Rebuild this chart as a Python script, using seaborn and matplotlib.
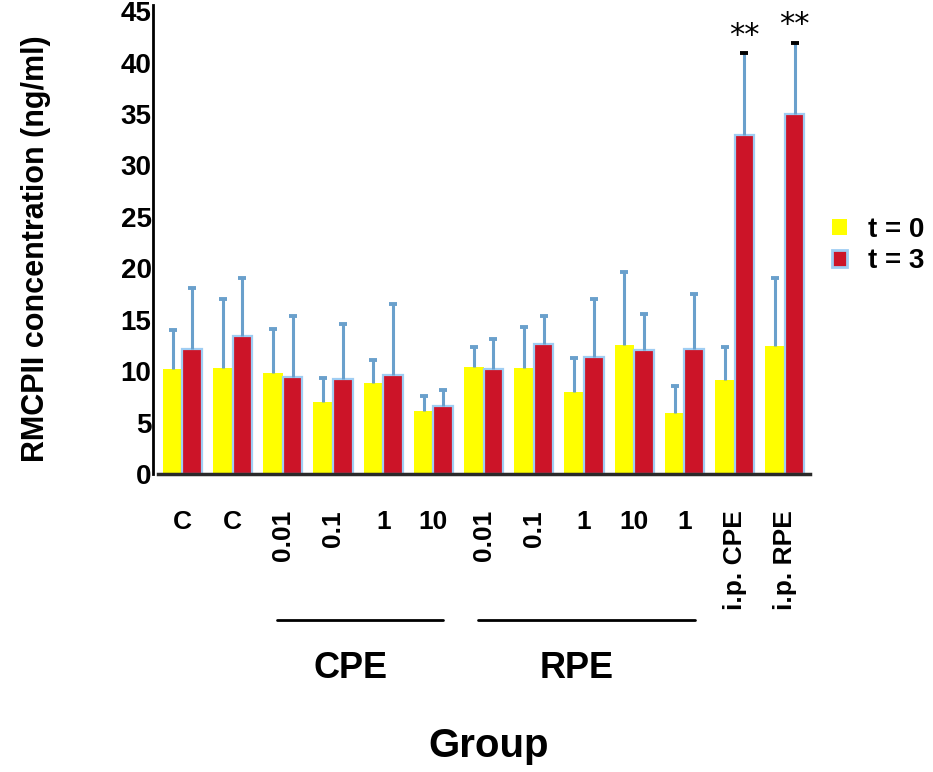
import matplotlib
matplotlib.use("Agg")
import matplotlib.pyplot as plt
import matplotlib.transforms as mtransforms
from matplotlib.patches import Patch
import numpy as np
import pandas as pd
import seaborn as sns

# Groups (unique ids) and the tick labels printed under them
groups = ["C a", "C b", "CPE 0.01", "CPE 0.1", "CPE 1", "CPE 10",
          "RPE 0.01", "RPE 0.1", "RPE 1", "RPE 10", "RPE 1 b",
          "i.p. CPE", "i.p. RPE"]
tick_labels = ["C", "C", "0.01", "0.1", "1", "10",
               "0.01", "0.1", "1", "10", "1", "i.p. CPE", "i.p. RPE"]
rotated_labels = ["0.01", "0.1", "i.p. CPE", "i.p. RPE"]

times = ["t = 0", "t = 3"]

# Mean RMCPII concentration (ng/ml) and SD at each time point
mean_t0 = [10.2, 10.3, 9.85, 7.0, 8.8, 6.15, 10.4, 10.3, 8.0, 12.5, 5.9, 9.1, 12.4]
sd_t0 = [3.8, 6.7, 4.25, 2.3, 2.3, 1.45, 1.9, 4.0, 3.3, 7.1, 2.65, 3.2, 6.7]
mean_t3 = [12.2, 13.4, 9.45, 9.2, 9.6, 6.6, 10.2, 12.6, 11.4, 12.05, 12.2, 33.0, 35.05]
sd_t3 = [5.9, 5.7, 5.95, 5.4, 6.9, 1.6, 2.9, 2.8, 5.6, 3.5, 5.3, 7.9, 6.9]

# Significance marks above the t = 3 bars
signif_t3 = ["", "", "", "", "", "", "", "", "", "", "", "**", "**"]

# Bracketed dose groups under the axis: (label, first index, last index)
dose_groups = [("CPE", 2, 5), ("RPE", 6, 10)]

YELLOW = "#ffff00"
RED = "#cc1428"
EDGE = "#9fcdf3"
ERR = "#6aa0cc"

df = pd.DataFrame({
    "group": groups * 2,
    "time": [times[0]] * len(groups) + [times[1]] * len(groups),
    "conc": mean_t0 + mean_t3,
    "sd": sd_t0 + sd_t3,
})

sns.set_theme(style="white")
plt.rcParams["font.family"] = ["Liberation Sans", "DejaVu Sans"]
plt.rcParams["text.color"] = "black"
plt.rcParams["axes.labelcolor"] = "black"
plt.rcParams["xtick.color"] = "black"
plt.rcParams["ytick.color"] = "black"

fig = plt.figure(figsize=(9.33, 7.72), dpi=100)
ax = fig.add_axes([153 / 933, 1 - 474 / 772, (810 - 153) / 933, (474 - 5) / 772])

sns.barplot(data=df, x="group", y="conc", hue="time", order=groups,
            hue_order=times, palette={times[0]: YELLOW, times[1]: RED},
            width=0.78, errorbar=None, saturation=1, legend=False, ax=ax)

for bar in ax.containers[0]:
    bar.set_edgecolor("none")
    bar.set_linewidth(0)
for bar in ax.containers[1]:
    bar.set_edgecolor(EDGE)
    bar.set_linewidth(1.6)

# One-sided (upward) SD bars
for container, means, sds, marks in [(ax.containers[0], mean_t0, sd_t0, [""] * len(groups)),
                                      (ax.containers[1], mean_t3, sd_t3, signif_t3)]:
    for bar, m, s, mark in zip(container, means, sds, marks):
        x = bar.get_x() + bar.get_width() / 2
        top = m + s
        ax.vlines(x, m, top, color=ERR, lw=2.2, zorder=3)
        ax.plot(x, top, marker="_", ms=6, mew=2.8,
                color="black" if mark else ERR, zorder=4)
        if mark:
            ax.text(x, top + 0.3, mark, ha="center", va="bottom",
                    fontsize=22, family="DejaVu Sans", clip_on=False)

ax.set_ylim(0, 45.6)
ax.set_xlim(-0.586, 12.5)
ax.set_yticks(np.arange(0, 46, 5))
ax.tick_params(axis="y", direction="in", length=4, width=1.5, color=ERR,
               labelcolor="black", pad=1, labelsize=20)
for lbl in ax.get_yticklabels():
    lbl.set_fontweight("bold")

ax.set_xticks(range(len(groups)))
ax.set_xticklabels(tick_labels)
ax.tick_params(axis="x", length=0, pad=26, labelsize=19, labelcolor="black")
for lbl in ax.get_xticklabels():
    lbl.set_fontweight("bold")
    if lbl.get_text() in rotated_labels:
        lbl.set_rotation(90)

for side in ["top", "right"]:
    ax.spines[side].set_visible(False)
ax.spines["left"].set_color("black")
ax.spines["left"].set_linewidth(2)
ax.spines["bottom"].set_color("#2a2a2a")
ax.spines["bottom"].set_linewidth(2.5)
ax.spines["bottom"].set_bounds(-0.48, 12.5)

ax.set_ylabel("RMCPII concentration (ng/ml)", fontsize=22, fontweight="bold")
ax.yaxis.label.set_verticalalignment("center")
ax.yaxis.set_label_coords(-0.178, 0.48)

ax.set_xlabel("Group", fontsize=29, fontweight="bold")
ax.xaxis.label.set_verticalalignment("center")
ax.xaxis.set_label_coords(0.511, -0.58)

# Brackets naming the dose series
trans = mtransforms.blended_transform_factory(ax.transData, ax.transAxes)
for name, i0, i1 in dose_groups:
    x0, x1 = i0 - 0.12, i1 + 0.2
    ax.plot([x0, x1], [-0.311, -0.311], transform=trans, color="black",
            lw=2, clip_on=False)
    ax.text((i0 + i1) / 2 - 0.15, -0.414, name, transform=trans, ha="center",
            va="center", fontsize=26, fontweight="bold")

handles = [Patch(facecolor=YELLOW, edgecolor="none", label=times[0]),
           Patch(facecolor=RED, edgecolor=EDGE, linewidth=2, label=times[1])]
fig.legend(handles=handles, loc="center left", bbox_to_anchor=(0.8917, 0.682),
           frameon=False, prop={"size": 20, "weight": "bold"},
           handlelength=0.55, handleheight=0.55, handletextpad=0.75,
           labelspacing=0.2, borderpad=0, borderaxespad=0)

fig.savefig("out.png", dpi=100)
